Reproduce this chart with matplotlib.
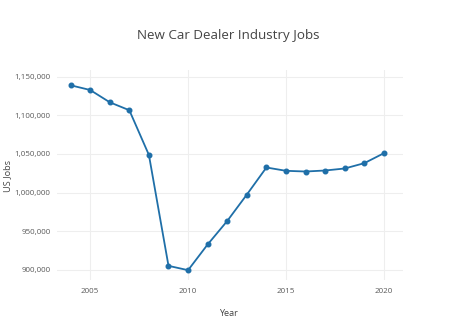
import matplotlib
matplotlib.use('Agg')
from matplotlib import pyplot as plt
from matplotlib.ticker import FuncFormatter

years = [2004, 2005, 2006, 2007, 2008, 2009, 2010, 2011, 2012,
         2013, 2014, 2015, 2016, 2017, 2018, 2019, 2020]
jobs = [1138900, 1132800, 1116900, 1106600, 1048700, 905200, 899600, 932900, 963300,
        997400, 1032500, 1028200, 1027300, 1028600, 1031200, 1038100, 1051000]

x_ticks = [2005, 2010, 2015, 2020]
y_ticks = [900000, 950000, 1000000, 1050000, 1100000, 1150000]

plt.rcParams['font.family'] = ['Open Sans', 'DejaVu Sans']

fig = plt.figure(figsize=(4.74, 3.21), dpi=100)
ax = fig.add_axes([0.120, 0.128, 0.730, 0.654])

ax.plot(years, jobs, color='#1f6fa8', linewidth=1.3, marker='o', markersize=3.3)

ax.set_xlim(2003.3, 2020.97)
ax.set_ylim(887000, 1158700)
ax.set_xticks(x_ticks)
ax.set_yticks(y_ticks)
ax.yaxis.set_major_formatter(FuncFormatter(lambda v, p: '{:,.0f}'.format(v)))
ax.tick_params(length=0, labelsize=5.8, colors='#5a5a5a', pad=4.5)
ax.tick_params(axis='x', pad=6)
ax.grid(color='#eeeeee', linewidth=0.8)
ax.set_axisbelow(True)
for s in ax.spines.values():
    s.set_visible(False)

# axis titles placed like the plotly layout (centred over the plot area)
fig.text(0.483, 0.022, 'Year', ha='center', va='center', fontsize=6.6, color='#444444')
fig.text(0.016, 0.452, 'US Jobs', ha='center', va='center', rotation=90,
         fontsize=6.6, color='#444444')
fig.text(0.482, 0.89, 'New Car Dealer Industry Jobs', ha='center', va='center',
         fontsize=9.6, color='#444444')

fig.savefig('out.png', dpi=100)
